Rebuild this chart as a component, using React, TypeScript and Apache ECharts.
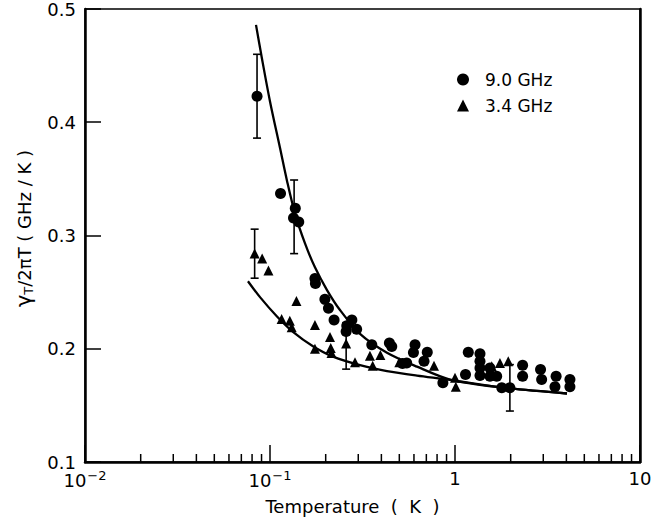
import React, { useEffect, useRef } from "react";
import * as echarts from "echarts";

// ---- data ----
const xTickExponents = [-2, -1, 0, 1];
const yTickLabels = ["0.1", "0.2", "0.3", "0.4", "0.5"];

const series9GHz: [number, number][] = [
  [0.0851, 0.423], [0.114, 0.337], [0.137, 0.324], [0.134, 0.3155], [0.143, 0.312],
  [0.175, 0.262], [0.176, 0.2576], [0.198, 0.2436], [0.207, 0.2357], [0.222, 0.2254],
  [0.277, 0.2254], [0.26, 0.2202], [0.294, 0.2173], [0.258, 0.2152], [0.355, 0.2035],
  [0.442, 0.2051], [0.455, 0.202], [0.52, 0.187], [0.548, 0.1874], [0.608, 0.2035],
  [0.596, 0.1967], [0.708, 0.197], [0.68, 0.1889], [0.86, 0.17], [1.14, 0.1772],
  [1.18, 0.197], [1.365, 0.1956], [1.365, 0.1889], [1.365, 0.183], [1.365, 0.1763],
  [1.545, 0.183], [1.545, 0.1757], [1.68, 0.1757], [1.79, 0.1655], [1.98, 0.1655],
  [2.32, 0.1854], [2.32, 0.1757], [2.9, 0.1816], [2.94, 0.1728], [3.52, 0.1757],
  [3.47, 0.1664], [4.18, 0.1728], [4.18, 0.1664],
];

const series34GHz: [number, number][] = [
  [0.0826, 0.2842], [0.0907, 0.2798], [0.0981, 0.269], [0.1156, 0.2263], [0.128, 0.2248],
  [0.131, 0.219], [0.139, 0.2421], [0.175, 0.221], [0.175, 0.2], [0.211, 0.2103],
  [0.213, 0.2006], [0.215, 0.1962], [0.258, 0.2047], [0.288, 0.188], [0.347, 0.1939],
  [0.359, 0.185], [0.395, 0.1945], [0.5, 0.188], [0.77, 0.185], [1.0, 0.1743],
  [1.01, 0.1664], [1.58, 0.1845], [1.75, 0.1874], [1.94, 0.1889],
];

// [T, low, high]
const errorBars: [number, number, number][] = [
  [0.0851, 0.386, 0.46],
  [0.135, 0.284, 0.349],
  [0.0826, 0.2623, 0.3056],
  [0.258, 0.182, 0.223],
  [1.98, 0.145, 0.186],
];

const upperCurveT = [0.084, 0.0905, 0.1, 0.1133, 0.1236, 0.1365, 0.1546, 0.175, 0.2033, 0.2389, 0.3066, 0.4289, 0.6232, 0.9397, 1.751, 4.031];
const upperCurveY = [0.486, 0.4561, 0.4184, 0.3772, 0.3482, 0.3193, 0.293, 0.2719, 0.2518, 0.2342, 0.2132, 0.1965, 0.1842, 0.1728, 0.166, 0.1605];

const lowerCurveT = [0.076, 0.0883, 0.1091, 0.1331, 0.1707, 0.219, 0.3066, 0.4289, 0.6232, 0.9397, 1.751, 4.031];
const lowerCurveY = [0.2596, 0.2456, 0.2285, 0.2149, 0.2022, 0.193, 0.1855, 0.1803, 0.1763, 0.1726, 0.166, 0.1605];

const minorTickValues = [
  0.02, 0.03, 0.04, 0.05, 0.06, 0.07, 0.08, 0.09,
  0.2, 0.3, 0.4, 0.5, 0.6, 0.7, 0.8, 0.9,
  2, 3, 4, 5, 6, 7, 8, 9,
];

const FONT = "DejaVu Sans";

export default function App() {
  const ref = useRef<HTMLDivElement>(null);

  useEffect(() => {
    document.body.style.margin = "0";
    const chart = echarts.init(ref.current!, null, { renderer: "svg" });
    const yMin = Number(yTickLabels[0]);
    const yMax = Number(yTickLabels[yTickLabels.length - 1]);

    const option: any = {
      animation: false,
      backgroundColor: "#fff",
      grid: {
        left: 85, right: 18, top: 7, bottom: 57,
        show: true, borderColor: "#000", borderWidth: 1.5,
      },
      legend: {
        data: ["9.0 GHz", "3.4 GHz"],
        orient: "vertical",
        left: 452, top: 66,
        itemWidth: 12, itemHeight: 12, itemGap: 9,
        textStyle: { fontFamily: FONT, fontSize: 17, color: "#000", padding: [0, 0, 0, 11] },
        selectedMode: false,
      },
      xAxis: {
        type: "log", logBase: 10, min: 0.01, max: 10,
        name: "Temperature  (  K  )", nameLocation: "middle", nameGap: 35,
        nameTextStyle: { fontFamily: FONT, fontSize: 18, color: "#000", padding: [0, 20, 0, 0] },
        axisLine: { show: true, lineStyle: { color: "#000", width: 2.5 } },
        axisTick: { show: true, inside: true, length: 17, lineStyle: { color: "#000", width: 1.5 } },
        splitLine: { show: false },
        axisLabel: {
          margin: 7, color: "#000", fontFamily: FONT, fontSize: 18,
          formatter: (v: number) => {
            const e = Math.round(Math.log10(v));
            if (!xTickExponents.includes(e)) return "";
            if (e < 0) return `10{sup|−${-e}}`;
            return e === 0 ? "1" : "10";
          },
          rich: { sup: { fontFamily: FONT, fontSize: 13, color: "#000", padding: [0, 0, 9, 1] } },
        },
      },
      yAxis: [
        {
          type: "value", min: yMin, max: yMax, interval: 0.1,
          name: "{g|γ}{s|T}{n|/2πT ( GHz / K )}",
          nameLocation: "middle", nameGap: 50, nameRotate: 90,
          nameTextStyle: {
            fontFamily: FONT, fontSize: 18, color: "#000", padding: [0, 0, 0, 14],
            rich: {
              g: { fontFamily: FONT, fontSize: 21, color: "#000" },
              s: { fontFamily: FONT, fontSize: 13, color: "#000", padding: [9, 0, 0, 0] },
              n: { fontFamily: FONT, fontSize: 18, color: "#000" },
            },
          },
          axisLine: { show: true, lineStyle: { color: "#000", width: 2.5 } },
          axisTick: { show: true, inside: true, length: 16, lineStyle: { color: "#000", width: 1.5 } },
          splitLine: { show: false },
          axisLabel: {
            margin: 9, color: "#000", fontFamily: FONT, fontSize: 18,
            formatter: (v: number) => v.toFixed(1),
          },
        },
        {
          type: "value", min: yMin, max: yMax, interval: 0.1, position: "right",
          axisLine: { show: true, lineStyle: { color: "#000", width: 2.5 } },
          axisTick: { show: false }, axisLabel: { show: false }, splitLine: { show: false },
        },
      ],
      series: [
        {
          name: "minorTicks", type: "custom", silent: true,
          data: minorTickValues.map((v) => [v, yMin]),
          renderItem: (params: any, api: any) => {
            const p = api.coord([api.value(0), api.value(1)]);
            return {
              type: "line",
              shape: { x1: p[0], y1: p[1], x2: p[0], y2: p[1] - 8 },
              style: { stroke: "#000", lineWidth: 1.5 },
            };
          },
        },
        {
          name: "fit9", type: "line", smooth: 0.3, symbol: "none",
          data: upperCurveT.map((t, i) => [t, upperCurveY[i]]),
          lineStyle: { color: "#000", width: 2.3 }, silent: true,
        },
        {
          name: "fit34", type: "line", smooth: 0.3, symbol: "none",
          data: lowerCurveT.map((t, i) => [t, lowerCurveY[i]]),
          lineStyle: { color: "#000", width: 2.3 }, silent: true,
        },
        {
          name: "errors", type: "custom", silent: true,
          data: errorBars,
          encode: { x: 0, y: [1, 2] },
          renderItem: (params: any, api: any) => {
            const x = api.value(0);
            const lo = api.coord([x, api.value(1)]);
            const hi = api.coord([x, api.value(2)]);
            const w = 4;
            const st = { stroke: "#000", lineWidth: 1.6 };
            return {
              type: "group",
              children: [
                { type: "line", shape: { x1: lo[0], y1: lo[1], x2: hi[0], y2: hi[1] }, style: st },
                { type: "line", shape: { x1: lo[0] - w, y1: lo[1], x2: lo[0] + w, y2: lo[1] }, style: st },
                { type: "line", shape: { x1: hi[0] - w, y1: hi[1], x2: hi[0] + w, y2: hi[1] }, style: st },
              ],
            };
          },
        },
        {
          name: "9.0 GHz", type: "scatter", symbol: "circle", symbolSize: 11,
          data: series9GHz, itemStyle: { color: "#000", opacity: 1 },
        },
        {
          name: "3.4 GHz", type: "scatter", symbol: "triangle", symbolSize: 10,
          data: series34GHz, itemStyle: { color: "#000", opacity: 1 },
        },
      ],
    };

    chart.setOption(option);
    return () => chart.dispose();
  }, []);

  return (
    <div
      ref={ref}
      style={{ position: "absolute", left: 0, top: 0, width: 658, height: 520, background: "#fff" }}
    />
  );
}
